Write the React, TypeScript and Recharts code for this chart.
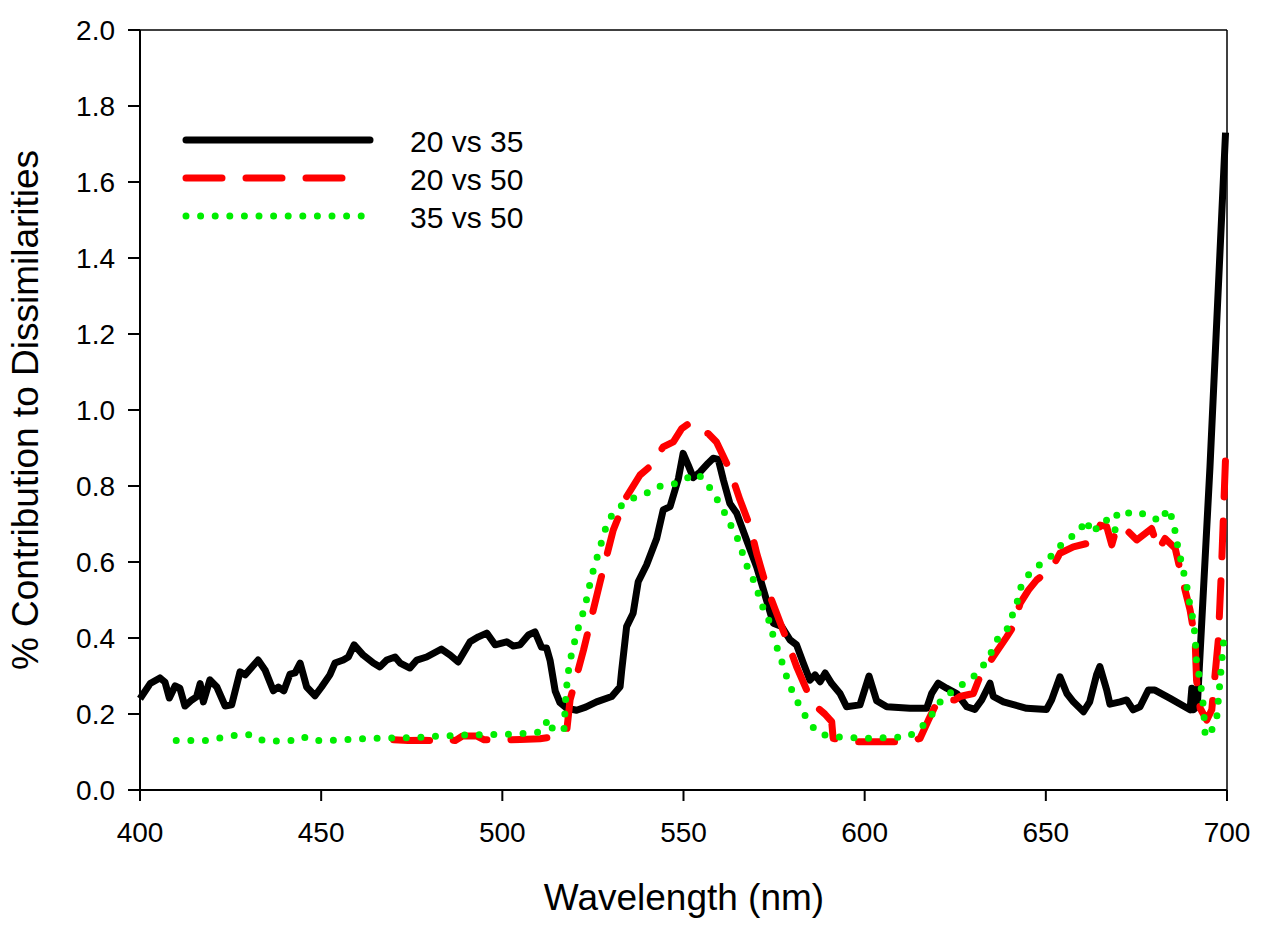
import React from 'react';
import { LineChart, Line, XAxis, YAxis, ReferenceLine } from 'recharts';

const FONT = 'Liberation Sans, Arial, Helvetica, sans-serif';

// 20 vs 35 (black solid)
const wl20v35 = [
  400, 402.8, 405.5, 406.9, 408.1, 409.7, 411, 412.4, 414.3, 415.6, 416.6, 417.5, 419.3, 421.2, 423.5, 425.3,
  427.6, 429, 432.6, 434.5, 436.8, 438.2, 439.7, 441.4, 442.8, 444.2, 446, 448.3, 450.1, 452.4, 453.8, 456.1,
  457.5, 459.1, 461.6, 464.4, 466.2, 468.1, 470.4, 471.8, 474.5, 476.4, 479.1, 483.2, 485.6, 487.8, 491.1,
  493.4, 495.7, 498, 501.2, 503, 504.9, 507.2, 509, 510.8, 512.2, 513.2, 514.6, 515.9, 517.8, 520.5, 523,
  526, 530.2, 532.5, 532.9, 534.3, 536.1, 537.5, 539.8, 542.6, 544.4, 546.3, 548.6, 549.9, 551.3, 552.7,
  554.6, 556.8, 558.2, 559.6, 561, 562.8, 564.7, 567.4, 570.2, 572.9, 574.8, 577.1, 579.4, 581.2, 583.1,
  584.9, 586.3, 587.7, 589.1, 590.9, 593.2, 595, 598.7, 601.2, 603.3, 606.1, 612.5, 617.1, 618.5, 620.3,
  622.6, 625.4, 628.2, 630.4, 632.3, 634.6, 635.5, 638.3, 644.7, 650.2, 651.6, 653.9, 655.8, 657.6, 659,
  660.4, 662.1, 664, 664.9, 666.8, 667.7, 670.5, 672.3, 674.1, 676, 678.3, 680.1, 684.3, 689.8, 690.3,
  690.7, 691.8, 695.3, 699.6,
];
const val20v35 = [
  0.24, 0.28, 0.295, 0.284, 0.242, 0.274, 0.268, 0.221, 0.237, 0.245, 0.28, 0.232, 0.29, 0.271, 0.221, 0.224,
  0.311, 0.303, 0.342, 0.316, 0.261, 0.271, 0.261, 0.305, 0.308, 0.334, 0.271, 0.248, 0.271, 0.303, 0.334, 0.342,
  0.35, 0.382, 0.355, 0.334, 0.324, 0.342, 0.35, 0.334, 0.321, 0.342, 0.35, 0.371, 0.355, 0.337, 0.39,
  0.403, 0.413, 0.382, 0.39, 0.379, 0.382, 0.408, 0.416, 0.376, 0.374, 0.34, 0.26, 0.23, 0.215, 0.21, 0.218,
  0.232, 0.246, 0.272, 0.311, 0.43, 0.465, 0.548, 0.592, 0.662, 0.737, 0.746, 0.82, 0.886, 0.855, 0.822,
  0.837, 0.86, 0.873, 0.87, 0.816, 0.754, 0.728, 0.658, 0.587, 0.5, 0.439, 0.43, 0.395, 0.382, 0.333,
  0.289, 0.303, 0.285, 0.308, 0.28, 0.254, 0.219, 0.224, 0.3, 0.235, 0.219, 0.215, 0.215, 0.254, 0.281,
  0.268, 0.254, 0.219, 0.212, 0.237, 0.281, 0.246, 0.232, 0.215, 0.212, 0.237, 0.298, 0.254, 0.232, 0.219,
  0.206, 0.232, 0.303, 0.325, 0.263, 0.226, 0.232, 0.237, 0.211, 0.219, 0.263, 0.263, 0.241, 0.211, 0.268,
  0.211, 0.22, 0.85, 1.73,
];

// 20 vs 50 (red dashed)
const wl20v50 = [
  470, 474, 478, 482, 484, 487, 489, 493, 495, 500, 505, 510.4, 515.9, 517.8, 518.7, 522.4, 527, 530.6, 534.3,
  538, 541.2, 544.4, 547.2, 549.5, 551.3, 552.3, 556.8, 559.1, 562.8, 565.6, 568.4, 570.2, 572.9, 575.7,
  578.5, 581.2, 584, 586.7, 589, 590.9, 591.3, 595, 604.2, 612.5, 615.3, 617.6, 620.3, 624.9, 626.3, 630,
  631.8, 635.5, 639.2, 641, 642.9, 645.2, 647.5, 651.6, 653.9, 657.6, 663.1, 665, 666.8, 668.2, 669.6,
  672.3, 675.1, 679.2, 681.1, 682.9, 685.7, 687.5, 689.8, 691.2, 691.6, 692.6, 694.4, 695.8, 697.6, 698.5,
  699.7,
];
const val20v50 = [
  0.132, 0.13, 0.131, 0.13, 0.135, 0.13, 0.142, 0.142, 0.132, 0.132, 0.133, 0.135, 0.142, 0.158, 0.237, 0.368,
  0.548, 0.684, 0.772, 0.829, 0.855, 0.903, 0.916, 0.951, 0.963, 0.949, 0.938, 0.916, 0.842, 0.763, 0.693,
  0.623, 0.535, 0.465, 0.395, 0.325, 0.263, 0.219, 0.2, 0.18, 0.136, 0.127, 0.127, 0.127, 0.136, 0.184,
  0.237, 0.237, 0.246, 0.254, 0.298, 0.351, 0.403, 0.43, 0.491, 0.526, 0.553, 0.583, 0.623, 0.64, 0.653,
  0.697, 0.693, 0.645, 0.693, 0.684, 0.658, 0.688, 0.632, 0.662, 0.636, 0.561, 0.474, 0.395, 0.289, 0.215,
  0.184, 0.211, 0.395, 0.588, 0.9,
];

// 35 vs 50 (green dotted)
const wl35v50 = [
  410, 414, 418, 421.6, 427.6, 431.3, 434, 437.7, 441.9, 445.1, 447.6, 451.5, 463.5, 475.4, 483.2, 491.1,
  498.9, 507.2, 510.8, 512.7, 513.8, 515.3, 517, 517.6, 518.5, 520.5, 522.8, 524.6, 527, 529.2, 532.5, 536.1,
  539.8, 542.6, 546.7, 549.9, 553.6, 555.9, 558.2, 560.5, 562.8, 564.7, 566, 567.4, 569.3, 570.6, 572,
  573.9, 574.8, 576.2, 577.6, 578.9, 580.3, 582.6, 584.9, 587.2, 591.3, 600.5, 612.1, 615.3, 617.6, 619.9,
  622.2, 625.4, 627.7, 630, 632.8, 634.6, 636.5, 639.2, 640.6, 642, 642.9, 644.7, 646.6, 649.3, 652.5,
  654.8, 657.1, 659.4, 660.8, 663.1, 665, 667.3, 669.1, 669.6, 671.4, 673.7, 676, 678.7, 681.5, 683.8,
  685.2, 686.5, 687.5, 688.4, 689.3, 689.8, 690.7, 691.2, 691.6, 692.6, 693.5, 694, 695.8, 697.2, 698.1,
  699, 699.6,
];
const val35v50 = [
  0.13, 0.13, 0.13, 0.136, 0.146, 0.145, 0.13, 0.129, 0.13, 0.14, 0.13, 0.13, 0.136, 0.138, 0.142, 0.145,
  0.146, 0.149, 0.153, 0.188, 0.162, 0.153, 0.158, 0.26, 0.333, 0.412, 0.482, 0.561, 0.64, 0.711, 0.746, 0.768,
  0.781, 0.798, 0.803, 0.816, 0.833, 0.816, 0.781, 0.746, 0.701, 0.667, 0.632, 0.592, 0.553, 0.518, 0.478,
  0.439, 0.403, 0.364, 0.325, 0.285, 0.254, 0.211, 0.175, 0.149, 0.14, 0.136, 0.14, 0.162, 0.184, 0.219,
  0.25, 0.263, 0.285, 0.298, 0.329, 0.355, 0.395, 0.421, 0.456, 0.491, 0.53, 0.561, 0.579, 0.601, 0.623,
  0.653, 0.667, 0.68, 0.711, 0.675, 0.706, 0.711, 0.684, 0.724, 0.737, 0.724, 0.728, 0.724, 0.706, 0.741,
  0.706, 0.636, 0.596, 0.557, 0.518, 0.482, 0.447, 0.403, 0.333, 0.289, 0.219, 0.14, 0.158, 0.193, 0.289,
  0.386, 0.421,
];

const seriesNames = ['20 vs 35', '20 vs 50', '35 vs 50'];
const xTicks = [400, 450, 500, 550, 600, 650, 700];
const yTicks = [0, 0.2, 0.4, 0.6, 0.8, 1.0, 1.2, 1.4, 1.6, 1.8, 2.0];
const xTitle = 'Wavelength (nm)';
const yTitle = '% Contribution to Dissimilarities';

const zip = (xs: number[], ys: number[]) => xs.map((x, i) => ({ x, y: ys[i] }));

const data20v35 = zip(wl20v35, val20v35);
const data20v50 = zip(wl20v50, val20v50);
const data35v50 = zip(wl35v50, val35v50);

const styles = [
  { stroke: '#000000', width: 7, dash: undefined as string | undefined, x2: 370 },
  { stroke: '#ff0000', width: 7, dash: '36 24', x2: 350 },
  { stroke: '#00ee00', width: 7, dash: '0 14.6', x2: 362 },
];

export default function App() {
  return (
    <div style={{ position: 'absolute', left: 0, top: 0, width: 1267, height: 934, background: '#fff' }}>
      <LineChart width={1267} height={934} margin={{ top: 30, right: 40, bottom: 84, left: 60 }}>
        <XAxis
          type="number"
          dataKey="x"
          domain={[400, 700]}
          ticks={xTicks}
          height={60}
          tickSize={11}
          tickMargin={21}
          axisLine={{ stroke: '#000', strokeWidth: 2 }}
          tickLine={{ stroke: '#000', strokeWidth: 2 }}
          tick={{ fontSize: 28, fill: '#000', fontFamily: FONT }}
          label={{
            content: () => (
              <text x={684} y={910} textAnchor="middle" fontSize={37} fontFamily={FONT} fill="#000">
                {xTitle}
              </text>
            ),
          }}
        />
        <YAxis
          type="number"
          domain={[0, 2]}
          ticks={yTicks}
          width={80}
          tickSize={12}
          tickMargin={13}
          tickFormatter={(v: number) => v.toFixed(1)}
          axisLine={{ stroke: '#000', strokeWidth: 2 }}
          tickLine={{ stroke: '#000', strokeWidth: 2 }}
          tick={{ fontSize: 28, fill: '#000', fontFamily: FONT }}
          label={{
            content: () => (
              <text
                x={38}
                y={410}
                transform="rotate(-90 38 410)"
                textAnchor="middle"
                fontSize={37}
                fontFamily={FONT}
                fill="#000"
              >
                {yTitle}
              </text>
            ),
          }}
        />
        <ReferenceLine y={2} stroke="#000" strokeWidth={1.5} />
        <ReferenceLine x={700} stroke="#000" strokeWidth={1.5} />
        <Line
          data={data20v35}
          dataKey="y"
          type="linear"
          stroke={styles[0].stroke}
          strokeWidth={styles[0].width}
          strokeLinejoin="round"
          dot={false}
          isAnimationActive={false}
        />
        <Line
          data={data20v50}
          dataKey="y"
          type="linear"
          stroke={styles[1].stroke}
          strokeWidth={styles[1].width}
          strokeDasharray={styles[1].dash}
          strokeLinecap="round"
          strokeLinejoin="round"
          dot={false}
          isAnimationActive={false}
        />
        <Line
          data={data35v50}
          dataKey="y"
          type="linear"
          stroke={styles[2].stroke}
          strokeWidth={styles[2].width}
          strokeDasharray={styles[2].dash}
          strokeLinecap="round"
          strokeLinejoin="round"
          dot={false}
          isAnimationActive={false}
        />
      </LineChart>
      <svg
        width={1267}
        height={934}
        style={{ position: 'absolute', left: 0, top: 0, pointerEvents: 'none' }}
      >
        {seriesNames.map((name, i) => {
          const y = 140 + i * 38;
          const s = styles[i];
          return (
            <g key={name}>
              <line
                x1={186}
                x2={s.x2}
                y1={y}
                y2={y}
                stroke={s.stroke}
                strokeWidth={s.width}
                strokeDasharray={s.dash}
                strokeLinecap="round"
              />
              <text x={410} y={y + 12} fontSize={30} fontFamily={FONT} fill="#000">
                {name}
              </text>
            </g>
          );
        })}
      </svg>
    </div>
  );
}
